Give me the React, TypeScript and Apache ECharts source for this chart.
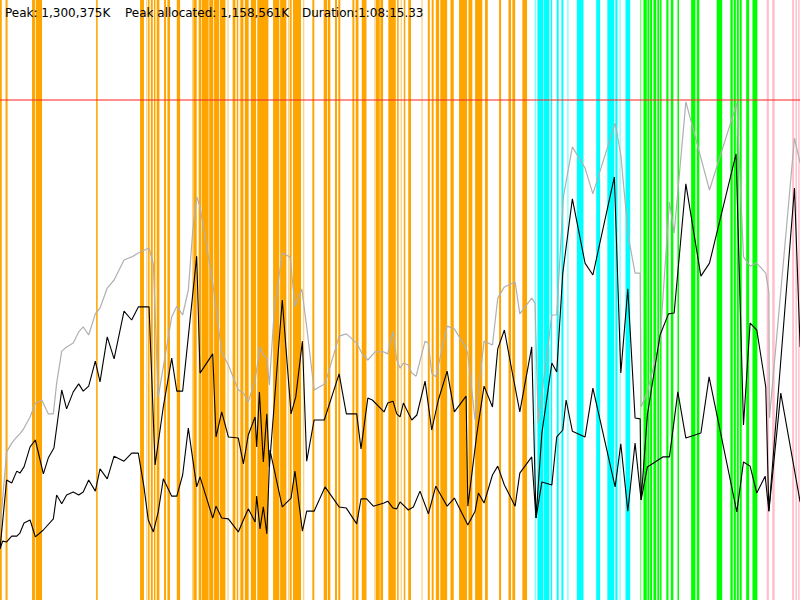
import React, { useEffect, useRef } from "react";
import * as echarts from "echarts";

// Summary figures (heap in K, duration text)
const PEAK_K = 1300375;
const PEAK_ALLOCATED_K = 1158561;
const DURATION_TEXT = "1:08:15.33";
const DURATION_S = 4095.33; // seconds
const HEAP_AXIS_MAX = 1560; // in 1000K units

// Heap size (committed), [seconds, 1000K]
const heapSize: [number, number][] = [
  [0, 182], [34, 385], [60, 408], [86, 424], [102, 432], [123, 447], [154, 476], [181, 512],
  [214, 520], [247, 484], [273, 484], [290, 564], [316, 647], [341, 658], [375, 668], [403, 697],
  [426, 710], [454, 689], [488, 744], [512, 759], [549, 811], [584, 832], [635, 884], [674, 892],
  [708, 902], [763, 915], [785, 874], [810, 528], [836, 606], [879, 736], [905, 764], [935, 741],
  [964, 806], [987, 962], [1007, 1048], [1024, 1022], [1089, 824], [1135, 645], [1169, 611],
  [1220, 546], [1246, 538], [1271, 515], [1306, 572], [1331, 658], [1348, 637], [1366, 629],
  [1379, 559], [1404, 754], [1445, 902], [1485, 892], [1510, 764], [1545, 809], [1570, 710],
  [1608, 546], [1664, 562], [1736, 686], [1773, 692], [1826, 668], [1852, 642], [1883, 624],
  [1920, 645], [1966, 645], [1985, 640], [2012, 699], [2031, 624], [2048, 603], [2065, 616],
  [2090, 611], [2108, 590], [2130, 582], [2176, 673], [2193, 668], [2210, 590], [2231, 580],
  [2289, 712], [2326, 705], [2386, 655], [2395, 640], [2432, 468], [2478, 673], [2521, 663],
  [2548, 785], [2582, 814], [2637, 827], [2661, 744], [2722, 785], [2739, 772], [2755, 460],
  [2825, 741], [2850, 741], [2884, 1048], [2930, 1178], [2995, 1123], [3035, 1056], [3149, 1240],
  [3178, 1157], [3217, 944], [3251, 850], [3277, 850], [3282, 502], [3314, 541], [3379, 676],
  [3427, 1035], [3451, 954], [3511, 1295], [3632, 1066], [3772, 1292], [3806, 892], [3840, 868],
  [3874, 876], [3920, 850], [3936, 801], [3939, 473], [4067, 1201], [4096, 1136],
];

// Heap used before collection, [seconds, 1000K]
const usedBefore: [number, number][] = [
  [0, 133], [34, 312], [60, 304], [86, 335], [102, 330], [123, 346], [154, 398], [181, 416],
  [222, 328], [247, 369], [276, 395], [316, 546], [341, 497], [375, 541], [403, 562], [426, 543],
  [454, 556], [488, 621], [512, 567], [549, 684], [584, 627], [635, 751], [674, 728], [708, 762],
  [763, 762], [794, 351], [836, 502], [879, 629], [905, 543], [935, 543], [1007, 894], [1024, 590],
  [1089, 640], [1106, 424], [1135, 489], [1169, 424], [1220, 421], [1246, 354], [1271, 429],
  [1306, 476], [1314, 398], [1328, 541], [1348, 359], [1366, 484], [1379, 346], [1445, 780],
  [1490, 484], [1514, 528], [1548, 673], [1570, 361], [1608, 468], [1660, 468], [1736, 588],
  [1773, 484], [1826, 484], [1848, 393], [1883, 525], [1906, 520], [1966, 489], [1985, 512],
  [2012, 517], [2031, 484], [2048, 476], [2065, 512], [2108, 468], [2134, 481], [2176, 569],
  [2210, 442], [2244, 520], [2289, 595], [2326, 489], [2386, 530], [2395, 244], [2441, 432],
  [2478, 556], [2521, 502], [2548, 653], [2582, 702], [2620, 598], [2661, 489], [2722, 658],
  [2744, 213], [2774, 434], [2825, 616], [2850, 593], [2881, 850], [2930, 1043], [2995, 876],
  [3035, 845], [3145, 1100], [3178, 590], [3214, 809], [3251, 473], [3277, 471], [3282, 260],
  [3314, 481], [3379, 689], [3422, 744], [3451, 746], [3511, 1082], [3588, 842], [3632, 876],
  [3768, 1160], [3806, 455], [3840, 720], [3874, 702], [3920, 554], [3936, 231], [4067, 1071],
  [4096, 658],
];

// Heap used after collection, [seconds, 1000K]
const usedAfter: [number, number][] = [
  [0, 133], [14, 153], [34, 151], [60, 166], [86, 166], [102, 174], [123, 200], [154, 208],
  [181, 164], [222, 182], [273, 211], [290, 273], [316, 250], [341, 273], [375, 281], [403, 273],
  [426, 281], [454, 312], [488, 283], [512, 341], [549, 315], [584, 374], [635, 361], [674, 382],
  [708, 382], [737, 294], [759, 208], [785, 177], [810, 229], [836, 315], [879, 270], [905, 270],
  [935, 325], [964, 447], [1007, 294], [1024, 320], [1089, 213], [1106, 244], [1135, 213],
  [1169, 211], [1220, 177], [1246, 208], [1271, 237], [1306, 203], [1314, 270], [1331, 185],
  [1348, 242], [1366, 172], [1382, 390], [1445, 242], [1490, 265], [1510, 335], [1548, 179],
  [1570, 231], [1608, 231], [1664, 294], [1736, 242], [1773, 239], [1826, 198], [1848, 263],
  [1877, 263], [1911, 244], [1966, 252], [1985, 257], [2012, 239], [2031, 237], [2048, 255],
  [2090, 234], [2116, 242], [2150, 283], [2193, 224], [2231, 296], [2289, 244], [2326, 265],
  [2395, 195], [2432, 231], [2449, 278], [2478, 252], [2521, 325], [2548, 348], [2582, 299],
  [2637, 244], [2661, 330], [2722, 372], [2744, 213], [2774, 307], [2825, 299], [2850, 424],
  [2881, 442], [2898, 520], [2930, 439], [2995, 424], [3035, 551], [3149, 294], [3178, 406],
  [3214, 231], [3251, 408], [3282, 260], [3314, 346], [3393, 372], [3427, 372], [3470, 541],
  [3511, 421], [3588, 434], [3630, 580], [3772, 229], [3806, 359], [3840, 348], [3874, 278],
  [3917, 322], [3936, 231], [3997, 538], [4096, 255],
];

// Collection events, [start s, end s]
const minorGc: [number, number][] = [
  [0, 9], [31, 37], [164, 179], [183, 215], [492, 500], [717, 737], [758, 764], [772, 782],
  [788, 795], [802, 816], [840, 850], [857, 870], [905, 922], [990, 1007], [1017, 1031],
  [1034, 1068], [1071, 1092], [1096, 1121], [1125, 1154], [1191, 1205], [1212, 1219],
  [1232, 1246], [1253, 1273], [1284, 1311], [1317, 1374], [1398, 1430], [1434, 1466],
  [1483, 1493], [1500, 1541], [1599, 1609], [1657, 1674], [1678, 1691], [1715, 1725],
  [1732, 1742], [1804, 1814], [1821, 1835], [1852, 1876], [1924, 1944], [1947, 1961],
  [1988, 2026], [2033, 2039], [2067, 2074], [2090, 2104], [2190, 2200], [2210, 2220],
  [2231, 2248], [2254, 2289], [2306, 2323], [2350, 2391], [2398, 2418], [2432, 2469],
  [2483, 2497], [2555, 2565], [2603, 2616], [2623, 2637], [2674, 2698],
];
const minorGcBrief: number[] = [26, 748, 983, 1164, 1227, 1474, 1551, 1916, 2051, 2157];

const concurrentGc: [number, number][] = [
  [2751, 2782], [2785, 2812], [2819, 2826], [2850, 2860], [2874, 2884], [2953, 2987],
  [3052, 3072], [3109, 3144], [3150, 3161], [3202, 3226],
];
const concurrentGcBrief: number[] = [2737, 2904, 3171];

const remarkGc: [number, number][] = [
  [3294, 3311], [3314, 3324], [3328, 3338], [3345, 3359], [3365, 3375], [3379, 3386],
  [3411, 3422], [3434, 3447], [3468, 3476], [3538, 3560], [3567, 3580], [3669, 3697],
  [3739, 3751], [3756, 3767], [3772, 3782], [3787, 3797], [3820, 3835], [3852, 3877],
];
const remarkGcBrief: number[] = [3276];

const fullGc: [number, number][] = [
  [3925, 3936], [3953, 3966], [4055, 4065], [4072, 4079], [4086, 4092],
];

const ORANGE = "#ffa500";
const CYAN = "#00ffff";
const GREEN = "#00ff00";
const PINK = "#ffc0cb";

function fmtK(v: number): string {
  return v.toString().replace(/\B(?=(\d{3})+(?!\d))/g, ",") + "K";
}

function eventSeries(name: string, ranges: [number, number][], color: string, opacity: number, minW: number) {
  return {
    name,
    type: "custom",
    z: 1,
    clip: true,
    silent: true,
    encode: { x: [0, 1] },
    data: ranges,
    renderItem: (_p: any, api: any) => {
      const a = api.coord([api.value(0), HEAP_AXIS_MAX]);
      const b = api.coord([api.value(1), 0]);
      const w = Math.max(b[0] - a[0], minW);
      return {
        type: "rect",
        shape: { x: a[0], y: a[1], width: w, height: b[1] - a[1] },
        style: { fill: color, opacity },
      };
    },
  };
}

function briefSeries(name: string, times: number[], color: string) {
  return eventSeries(name, times.map((t) => [t, t] as [number, number]), color, 0.5, 1.3);
}

export default function App() {
  const ref = useRef<HTMLDivElement>(null);
  useEffect(() => {
    if (!ref.current) return;
    const chart = echarts.init(ref.current, undefined, { renderer: "svg" });
    const textStyle = { fontSize: 12, fontFamily: "DejaVu Sans, sans-serif", fill: "#000" };
    chart.setOption({
      animation: false,
      backgroundColor: "#ffffff",
      grid: { left: 0, right: 0, top: 0, bottom: 0 },
      xAxis: { type: "value", min: 0, max: DURATION_S, show: false },
      yAxis: { type: "value", min: 0, max: HEAP_AXIS_MAX, show: false },
      graphic: [
        { type: "text", x: 5, y: 13, z: 100, style: { ...textStyle, text: "Peak: " + fmtK(PEAK_K), verticalAlign: "middle" } },
        { type: "text", x: 125, y: 13, z: 100, style: { ...textStyle, text: "Peak allocated: " + fmtK(PEAK_ALLOCATED_K), verticalAlign: "middle" } },
        { type: "text", x: 302, y: 13, z: 100, style: { ...textStyle, text: "Duration:" + DURATION_TEXT, verticalAlign: "middle" } },
      ],
      series: [
        eventSeries("minor", minorGc, ORANGE, 1, 1.5),
        briefSeries("minorBrief", minorGcBrief, ORANGE),
        eventSeries("concurrent", concurrentGc, CYAN, 1, 1.5),
        briefSeries("concurrentBrief", concurrentGcBrief, CYAN),
        eventSeries("remark", remarkGc, GREEN, 1, 1.5),
        briefSeries("remarkBrief", remarkGcBrief, GREEN),
        eventSeries("full", fullGc, PINK, 1, 1.5),
        {
          name: "heap",
          type: "line",
          z: 5,
          data: heapSize,
          showSymbol: false,
          symbol: "none",
          silent: true,
          lineStyle: { color: "#b0b0b0", width: 1.2 },
          markLine: {
            silent: true,
            symbol: ["none", "none"],
            label: { show: false },
            lineStyle: { color: "rgba(255,40,40,0.7)", width: 1.5, type: "solid" },
            data: [{ yAxis: PEAK_K / 1000 }],
          },
        },
        {
          name: "before",
          type: "line",
          z: 6,
          data: usedBefore,
          showSymbol: false,
          symbol: "none",
          silent: true,
          lineStyle: { color: "#000000", width: 1.1 },
        },
        {
          name: "after",
          type: "line",
          z: 6,
          data: usedAfter,
          showSymbol: false,
          symbol: "none",
          silent: true,
          lineStyle: { color: "#000000", width: 1.1 },
        },
      ],
    });
    return () => chart.dispose();
  }, []);
  return (
    <div
      ref={ref}
      style={{ position: "fixed", left: 0, top: 0, width: 800, height: 600, background: "#fff" }}
    />
  );
}
